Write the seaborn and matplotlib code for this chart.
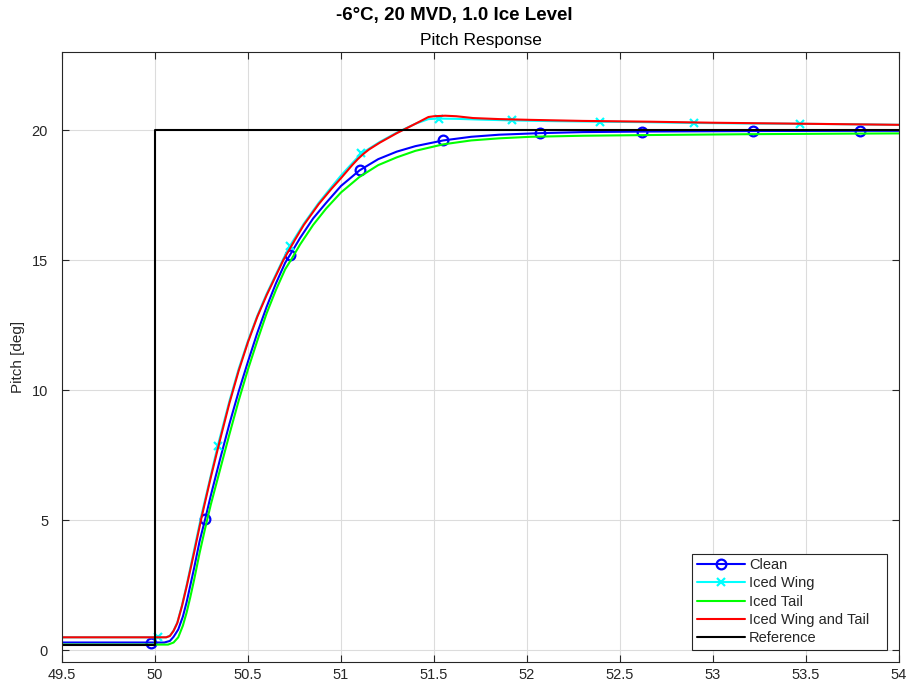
import numpy as np
import pandas as pd
import matplotlib
matplotlib.use("Agg")
import matplotlib.pyplot as plt
import seaborn as sns
from matplotlib.lines import Line2D

# ---- time histories (s) and pitch (deg) ----
clean_t = [49.5, 49.978, 50.05, 50.08, 50.10, 50.125, 50.15, 50.17, 50.19, 50.21,
           50.24, 50.27, 50.30, 50.35, 50.40, 50.45, 50.50, 50.55, 50.60, 50.65,
           50.70, 50.726, 50.78, 50.85, 50.92, 51.00, 51.10, 51.20, 51.30, 51.40,
           51.55, 51.70, 51.85, 52.07, 52.30, 52.62, 52.90, 53.215, 53.50, 53.79, 54.0]
clean_y = [0.30, 0.30, 0.30, 0.36, 0.52, 0.80, 1.30, 1.85, 2.50, 3.15,
           4.20, 5.05, 5.95, 7.35, 8.70, 9.95, 11.10, 12.20, 13.20, 14.10,
           14.90, 15.20, 15.85, 16.60, 17.20, 17.85, 18.45, 18.88, 19.17, 19.38,
           19.60, 19.74, 19.82, 19.88, 19.92, 19.94, 19.95, 19.96, 19.965, 19.97, 19.97]
clean_marks = [49.978, 50.27, 50.726, 51.10, 51.55, 52.07, 52.62, 53.215, 53.79]

wing_t = [49.5, 50.016, 50.06, 50.08, 50.10, 50.12, 50.145, 50.17, 50.19, 50.21,
          50.25, 50.30, 50.337, 50.40, 50.45, 50.50, 50.55, 50.60, 50.65, 50.69,
          50.726, 50.80, 50.88, 50.95, 51.00, 51.06, 51.11, 51.21, 51.30, 51.40,
          51.47, 51.527, 51.62, 51.75, 51.918, 52.15, 52.392, 52.65, 52.90, 53.20,
          53.47, 53.75, 54.0]
wing_y = [0.50, 0.50, 0.50, 0.56, 0.76, 1.07, 1.72, 2.50, 3.17, 3.85,
          5.20, 6.72, 7.85, 9.58, 10.82, 11.90, 12.86, 13.70, 14.45, 15.05,
          15.55, 16.40, 17.20, 17.82, 18.25, 18.72, 19.10, 19.55, 19.90, 20.24,
          20.42, 20.44, 20.43, 20.40, 20.37, 20.34, 20.32, 20.30, 20.27, 20.25,
          20.24, 20.22, 20.20]
wing_marks = [50.016, 50.337, 50.726, 51.11, 51.527, 51.918, 52.392, 52.90, 53.47]

tail_t = [49.5, 50.07, 50.10, 50.125, 50.15, 50.17, 50.19, 50.21, 50.24, 50.27,
          50.30, 50.35, 50.40, 50.45, 50.50, 50.55, 50.60, 50.65, 50.70, 50.735,
          50.78, 50.85, 50.92, 51.00, 51.10, 51.20, 51.30, 51.40, 51.55, 51.70,
          51.85, 52.02, 52.30, 52.70, 53.20, 53.70, 54.0]
tail_y = [0.22, 0.22, 0.30, 0.50, 0.95, 1.45, 2.05, 2.70, 3.75, 4.70,
          5.60, 6.95, 8.30, 9.60, 10.80, 11.90, 12.95, 13.85, 14.65, 15.05,
          15.60, 16.35, 16.98, 17.60, 18.20, 18.65, 18.95, 19.20, 19.45, 19.60,
          19.68, 19.74, 19.78, 19.81, 19.84, 19.86, 19.87]

both_t = [49.5, 50.06, 50.08, 50.10, 50.12, 50.145, 50.17, 50.19, 50.21, 50.25,
          50.30, 50.35, 50.40, 50.45, 50.50, 50.55, 50.60, 50.65, 50.69, 50.75,
          50.80, 50.88, 50.95, 51.00, 51.03, 51.06, 51.09, 51.12, 51.15, 51.21,
          51.30, 51.40, 51.47, 51.50, 51.56, 51.62, 51.71, 51.85, 52.02, 52.30,
          52.66, 53.00, 53.50, 54.0]
both_y = [0.50, 0.50, 0.55, 0.75, 1.05, 1.70, 2.45, 3.10, 3.75, 5.10,
          6.65, 8.10, 9.50, 10.75, 11.85, 12.82, 13.65, 14.40, 15.00, 15.75,
          16.35, 17.15, 17.75, 18.15, 18.40, 18.65, 18.88, 19.08, 19.25, 19.52,
          19.88, 20.24, 20.50, 20.53, 20.55, 20.53, 20.46, 20.42, 20.39, 20.35,
          20.32, 20.28, 20.24, 20.20]

ref_t = [49.5, 50.0, 50.0, 54.0]
ref_y = [0.22, 0.22, 20.0, 20.0]

series_names = ["Clean", "Iced Wing", "Iced Tail", "Iced Wing and Tail", "Reference"]
series_colors = ["#0000ff", "#00ffff", "#00ff00", "#ff0000", "#000000"]

sns.set_theme(style="whitegrid")
plt.rcParams['font.family'] = ['Liberation Sans', 'DejaVu Sans']

fig = plt.figure(figsize=(9.09, 6.93), dpi=100)
ax = fig.add_axes([0.0682, 0.0447, 0.9208, 0.8803])

lw = 1.5


def mark_idx(t, marks):
    return [i for i, v in enumerate(t) if any(abs(v - m) < 1e-9 for m in marks)]


sns.lineplot(x=clean_t, y=clean_y, ax=ax, color=series_colors[0], lw=lw,
             estimator=None, sort=False, marker="o", markevery=mark_idx(clean_t, clean_marks),
             markersize=7, markerfacecolor="none", markeredgecolor=series_colors[0],
             markeredgewidth=1.6, legend=False)
sns.lineplot(x=wing_t, y=wing_y, ax=ax, color=series_colors[1], lw=lw,
             estimator=None, sort=False, marker="x", markevery=mark_idx(wing_t, wing_marks),
             markersize=5.5, markeredgecolor=series_colors[1],
             markeredgewidth=1.6, legend=False)
sns.lineplot(x=tail_t, y=tail_y, ax=ax, color=series_colors[2], lw=lw,
             estimator=None, sort=False, legend=False)
sns.lineplot(x=both_t, y=both_y, ax=ax, color=series_colors[3], lw=lw,
             estimator=None, sort=False, legend=False)
sns.lineplot(x=ref_t, y=ref_y, ax=ax, color=series_colors[4], lw=lw,
             estimator=None, sort=False, legend=False)

ax.set_xlim(49.5, 54)
ax.set_ylim(-0.45, 23.0)
ax.set_xticks(np.arange(49.5, 54.01, 0.5))
ax.set_xticklabels(["49.5", "50", "50.5", "51", "51.5", "52", "52.5", "53", "53.5", "54"])
ax.set_yticks([0, 5, 10, 15, 20])
ax.set_yticklabels(["0", "5", "10", "15", "20"])

ax.set_facecolor("white")
ax.grid(True, color="#dcdcdc", lw=0.8)
for sp in ax.spines.values():
    sp.set_color("#262626")
    sp.set_linewidth(0.8)
    sp.set_visible(True)
ax.tick_params(direction="in", length=5, width=0.8, color="#262626",
               top=True, right=True, bottom=True, left=True,
               labelsize=10.5, labelcolor="#262626")
ax.tick_params(axis="x", pad=4)
ax.tick_params(axis="y", pad=10)

ax.set_ylabel("Pitch [deg]", fontsize=11, color="#262626", labelpad=5)
ax.set_xlabel("")
ax.set_title("Pitch Response", fontsize=12.5, color="black", pad=5)
fig.text(0.5, 0.99, "-6°C, 20 MVD, 1.0 Ice Level", ha="center", va="top",
         fontsize=13.5, fontweight="bold", color="black")

handles = [
    Line2D([], [], color=series_colors[0], lw=lw, marker="o", markersize=7,
           markerfacecolor="none", markeredgewidth=1.6),
    Line2D([], [], color=series_colors[1], lw=lw, marker="x", markersize=5.5,
           markeredgewidth=1.6),
    Line2D([], [], color=series_colors[2], lw=lw),
    Line2D([], [], color=series_colors[3], lw=lw),
    Line2D([], [], color=series_colors[4], lw=lw),
]
leg = ax.legend(handles, series_names, loc="lower left",
                bbox_to_anchor=(0.753, 0.02, 0.233, 0.16), mode="expand",
                fontsize=10.5, frameon=True, fancybox=False, edgecolor="#262626",
                handlelength=3.3, handletextpad=0.3, borderpad=0.3, labelspacing=0.3,
                borderaxespad=0.0, numpoints=1)
leg.get_frame().set_linewidth(0.8)
leg.get_frame().set_alpha(1.0)

fig.savefig("out.png", dpi=100)
